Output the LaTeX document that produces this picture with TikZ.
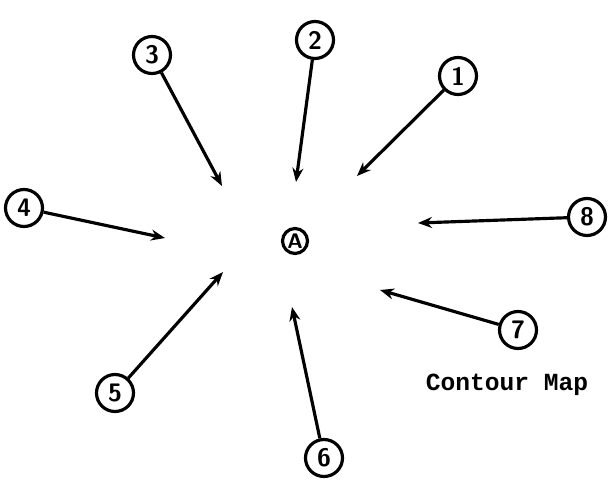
\documentclass[tikz,border=0pt]{standalone}
\usepackage{fontspec}
\setmonofont{Liberation Mono}
\usetikzlibrary{arrows.meta}
\begin{document}
\begin{tikzpicture}[
    x=0.02cm, y=-0.02cm,
    num/.style={draw, circle, line width=1.8pt, minimum size=0.74cm, inner sep=0pt, font=\sffamily\bfseries\Large},
    hub/.style={draw, circle, line width=1.8pt, minimum size=0.5cm, inner sep=0pt, font=\sffamily\bfseries\large},
    arr/.style={line width=1.8pt, -{Stealth[length=0.28cm, width=0.22cm]}},
  ]
    \useasboundingbox (0,0) rectangle (608,490);
    \node[hub] (A) at (295,241) {A};
    % circled points and where their arrows end
    \foreach \n/\x/\y/\tx/\ty in {
      1/458/76/357/176, 2/315/40/296/182, 3/152/55/222/186, 4/24/208/165/238,
      5/115/393/223/272, 6/324/458/292/307, 7/518/330/380/290, 8/587/217/418/223}
    {
      \node[num] (n\n) at (\x,\y) {\n};
      \coordinate (t\n) at (\tx,\ty);
      \draw[arr] (n\n) -- (t\n);
    }
    \node[font=\ttfamily\bfseries\fontsize{14}{16}\selectfont] (cap) at (507,385) {Contour Map};
\end{tikzpicture}
\end{document}
